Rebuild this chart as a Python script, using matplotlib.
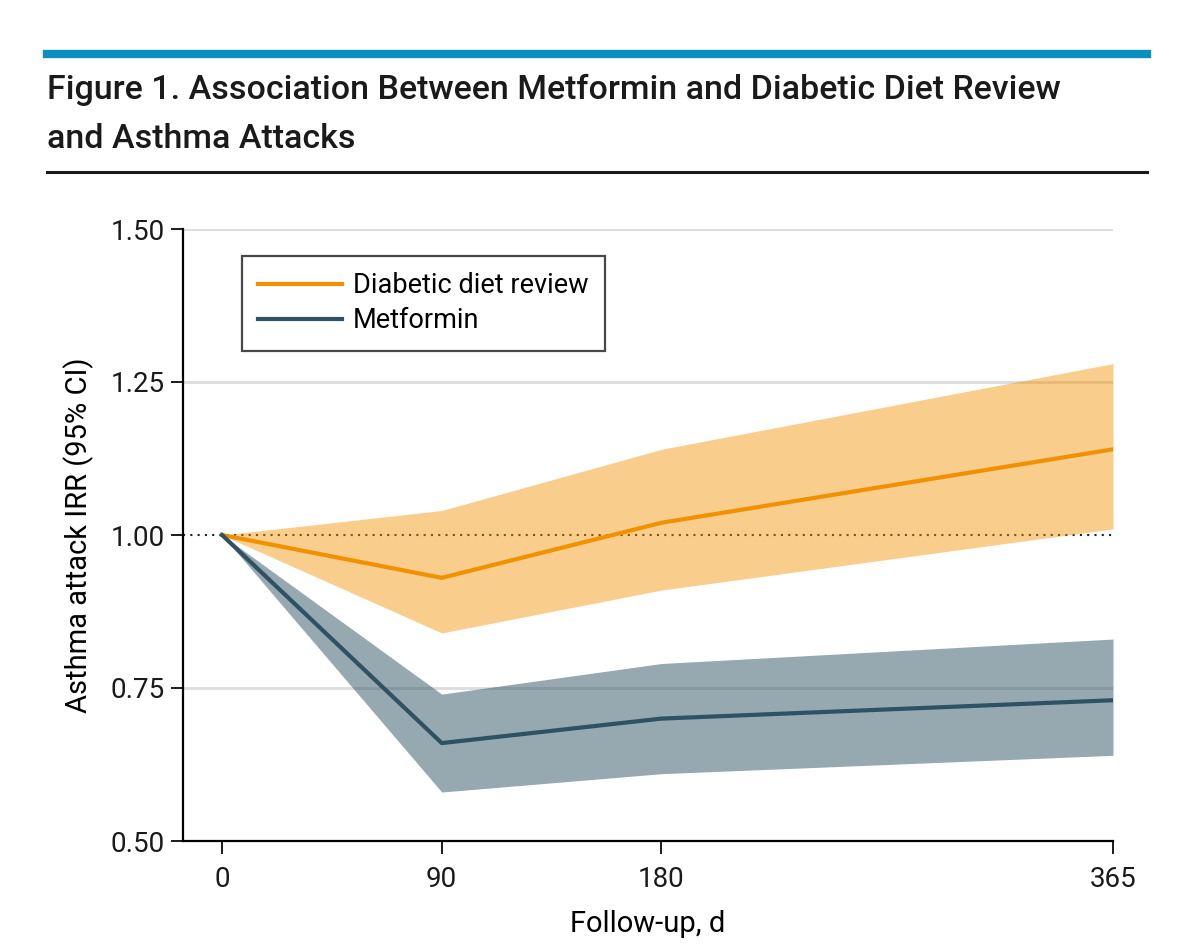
import numpy as np
import matplotlib
matplotlib.use('Agg')
import matplotlib.pyplot as plt
from matplotlib.lines import Line2D

# data
days = [0, 90, 180, 365]
diet_irr = [1.00, 0.93, 1.02, 1.14]
diet_lo = [1.00, 0.84, 0.91, 1.01]
diet_hi = [1.00, 1.04, 1.14, 1.28]
met_irr = [1.00, 0.66, 0.70, 0.73]
met_lo = [1.00, 0.58, 0.61, 0.64]
met_hi = [1.00, 0.74, 0.79, 0.83]
yticks = [0.50, 0.75, 1.00, 1.25, 1.50]

orange = '#F29100'
slate = '#2E5263'

plt.rcParams['font.family'] = ['Roboto', 'DejaVu Sans']

fig = plt.figure(figsize=(12, 9.51), dpi=100)

# header: blue bar, title, black rule
fig.add_artist(Line2D([47/1200, 1147/1200], [1-54/951, 1-54/951], color='#0A8FC0', lw=6))
fig.text(47/1200, 1-74/951, 'Figure 1. Association Between Metformin and Diabetic Diet Review\nand Asthma Attacks',
         fontsize=24.5, ha='left', va='top', linespacing=1.67, color='#1a1a1a',
         fontweight='medium')
fig.add_artist(Line2D([47/1200, 1147/1200], [1-172/951, 1-172/951], color='#1a1a1a', lw=2.2))

ax = fig.add_axes([183/1200, 1-841/951, (1113-183)/1200, (841-229)/951])

for y in yticks[1:]:
    if y == 1.00:
        continue
    ax.axhline(y, color='#dcdcdc', lw=2, zorder=1)
ax.axhline(1.00, color='#222222', lw=1.5, ls=(0, (1, 2.5)), zorder=1)

ax.fill_between(days, diet_lo, diet_hi, color=orange, alpha=0.45, lw=0, zorder=2)
ax.fill_between(days, met_lo, met_hi, color=slate, alpha=0.5, lw=0, zorder=2)
ax.plot(days, diet_irr, color=orange, lw=3, zorder=3, label='Diabetic diet review')
ax.plot(days, met_irr, color=slate, lw=3, zorder=3, label='Metformin')

ax.set_xlim(-16, 365)
ax.set_ylim(0.5, 1.5)
ax.set_xticks(days)
ax.set_xticklabels([str(d) for d in days])
ax.set_yticks(yticks)
ax.set_yticklabels(['%.2f' % y for y in yticks])
ax.spines['top'].set_visible(False)
ax.spines['right'].set_visible(False)
ax.spines['left'].set_linewidth(1.6)
ax.spines['bottom'].set_linewidth(1.6)
ax.tick_params(axis='both', length=9, width=1.4, labelsize=20, colors='#1a1a1a')
ax.tick_params(axis='x', pad=9)
ax.tick_params(axis='y', pad=4)
ax.set_xlabel('Follow-up, d', fontsize=21, labelpad=12)
ax.set_ylabel('Asthma attack IRR (95% CI)', fontsize=21, labelpad=12)

leg = ax.legend(loc='upper left', bbox_to_anchor=((242-183)/930, 1-(256-229)/612),
                fontsize=19.5, frameon=True, fancybox=False, edgecolor='#1a1a1a',
                handlelength=3.1, handletextpad=0.4, borderpad=0.6, labelspacing=0.3,
                borderaxespad=0)
leg.get_frame().set_linewidth(1.6)

fig.savefig('out.png', dpi=100)
